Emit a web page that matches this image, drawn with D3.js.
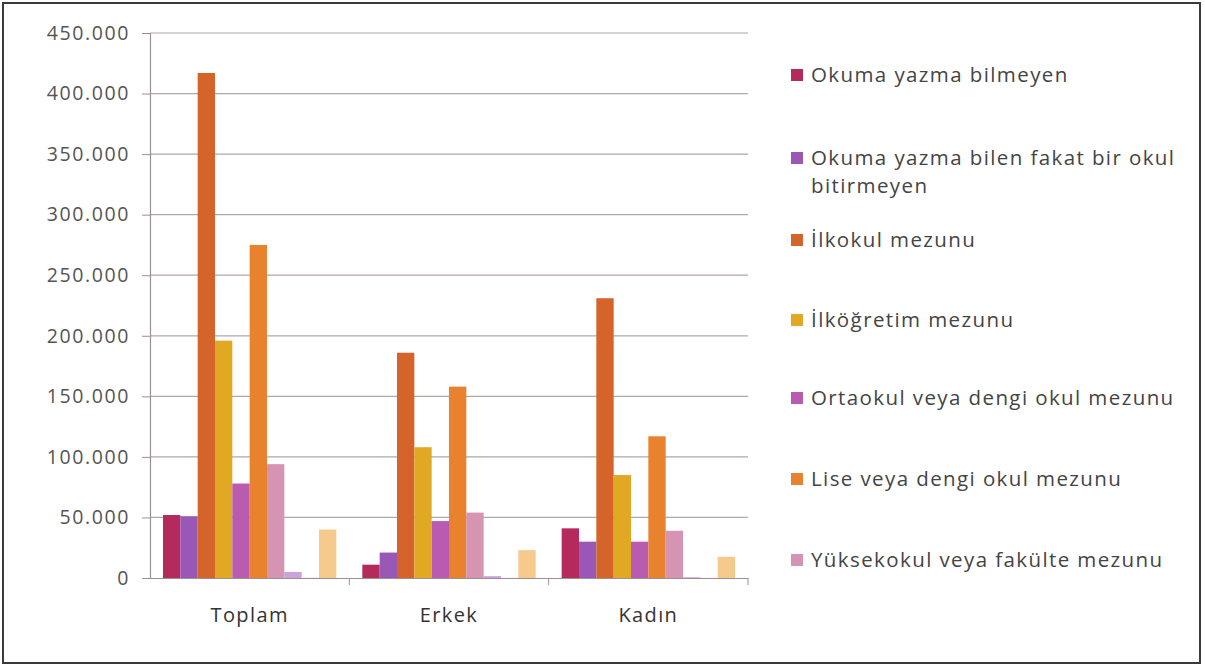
<!DOCTYPE html>
<html><head><meta charset="utf-8">
<script src="https://cdn.jsdelivr.net/npm/d3@7"></script>
<style>
html,body{margin:0;padding:0;background:#fff;}
svg{display:block;}
text{font-family:"Open Sans","DejaVu Sans",sans-serif;}
</style></head>
<body>
<svg id="c" width="1205" height="668"></svg>
<script>
const categories = ["Toplam", "Erkek", "Kadın"];
const seriesNames = [
  "Okuma yazma bilmeyen",
  "Okuma yazma bilen fakat bir okul bitirmeyen",
  "İlkokul mezunu",
  "İlköğretim mezunu",
  "Ortaokul veya dengi okul mezunu",
  "Lise veya dengi okul mezunu",
  "Yüksekokul veya fakülte mezunu",
  "Yüksek lisans mezunu",
  "Doktora mezunu",
  "Bilinmeyen"
];
const legendLines = [
  ["Okuma yazma bilmeyen"],
  ["Okuma yazma bilen fakat bir okul", "bitirmeyen"],
  ["İlkokul mezunu"],
  ["İlköğretim mezunu"],
  ["Ortaokul veya dengi okul mezunu"],
  ["Lise veya dengi okul mezunu"],
  ["Yüksekokul veya fakülte mezunu"]
];
const seriesColors = ["#b42a5c","#9a58b6","#d4642a","#e1a823","#b95bb0","#e9822f","#d595b2","#c9a3da","#f0e0ea","#f6c98c"];
// values per series: [Toplam, Erkek, Kadın]
const s1 = [52000, 11000, 41000];
const s2 = [51000, 21000, 30000];
const s3 = [417000, 186000, 231000];
const s4 = [196000, 108000, 85000];
const s5 = [78000, 47000, 30000];
const s6 = [275000, 158000, 117000];
const s7 = [94000, 54000, 39000];
const s8 = [5000, 1500, 600];
const s9 = [400, 200, 200];
const s10 = [40000, 23000, 17500];
const yTicks = [0, 50000, 100000, 150000, 200000, 250000, 300000, 350000, 400000, 450000];

const allSeries = [s1,s2,s3,s4,s5,s6,s7,s8,s9,s10];
const svg = d3.select("#c");

// frame
svg.append("rect").attr("x",3).attr("y",3).attr("width",1197).attr("height",660)
  .attr("fill","#fff").attr("stroke","#3a3a3a").attr("stroke-width",2);

const pL = 150, pR = 748, pT = 33, pB = 578;
const y = d3.scaleLinear().domain([0,450000]).range([pB, pT]);
const x0 = d3.scaleBand().domain(categories).range([pL,pR]).paddingInner(0).paddingOuter(0);
const x1 = d3.scaleBand().domain(d3.range(allSeries.length)).range([13, x0.bandwidth()-13]).padding(0);

const fmt = v => d3.format(",")(v).replace(/,/g,".");

// gridlines
svg.append("g").selectAll("line").data(yTicks.filter(d=>d>0)).join("line")
  .attr("x1",pL).attr("x2",pR).attr("y1",d=>y(d)).attr("y2",d=>y(d))
  .attr("stroke","#b3a6a6").attr("stroke-width",1.2);

// y axis
const yAxis = d3.axisLeft(y).tickValues(yTicks).tickFormat(fmt).tickSize(8).tickPadding(12);
const gy = svg.append("g").attr("transform",`translate(${pL},0)`).call(yAxis);
gy.select(".domain").attr("stroke","#9e9090").attr("stroke-width",1.2);
gy.selectAll(".tick line").attr("stroke","#9e9090");
gy.selectAll(".tick text").attr("font-size",19.5).attr("fill","#555")
  .attr("font-family","'DejaVu Sans',sans-serif").attr("letter-spacing","1.6px");

// bars
const groups = svg.append("g").selectAll("g").data(categories).join("g")
  .attr("transform",d=>`translate(${x0(d)},0)`);
groups.selectAll("rect").data((c,ci)=>allSeries.map((s,si)=>({si,v:s[ci]}))).join("rect")
  .attr("x",d=>x1(d.si)).attr("width",x1.bandwidth())
  .attr("y",d=>y(d.v)).attr("height",d=>pB-y(d.v))
  .attr("fill",d=>seriesColors[d.si]);

// x axis
const xAxis = d3.axisBottom(x0).tickSize(0).tickPadding(30);
const gx = svg.append("g").attr("transform",`translate(0,${pB})`).call(xAxis);
gx.select(".domain").attr("stroke","#9e9090").attr("stroke-width",1.2);
gx.selectAll(".tick text").attr("font-size",20).attr("fill","#333").attr("letter-spacing","1.4px");
// category boundary ticks
svg.append("g").selectAll("line").data(categories.slice(1).concat(["_end"])).join("line")
  .attr("x1",(d,i)=>pL + x0.step()*(i+1)).attr("x2",(d,i)=>pL + x0.step()*(i+1))
  .attr("y1",pB).attr("y2",pB+7).attr("stroke","#9e9090");

// legend
const legendY = [75, 158, 240, 320, 398, 479, 560];
const lg = svg.append("g");
legendLines.forEach((lines,i)=>{
  lg.append("rect").attr("x",791).attr("y",legendY[i]-6).attr("width",12).attr("height",12)
    .attr("fill",seriesColors[i]);
  lines.forEach((t,j)=>{
    lg.append("text").attr("x",811).attr("y",legendY[i]+j*28).attr("dy","0.35em")
      .attr("font-size",20.5).attr("fill","#444").attr("letter-spacing","1.4px").text(t);
  });
});
</script>
</body></html>
